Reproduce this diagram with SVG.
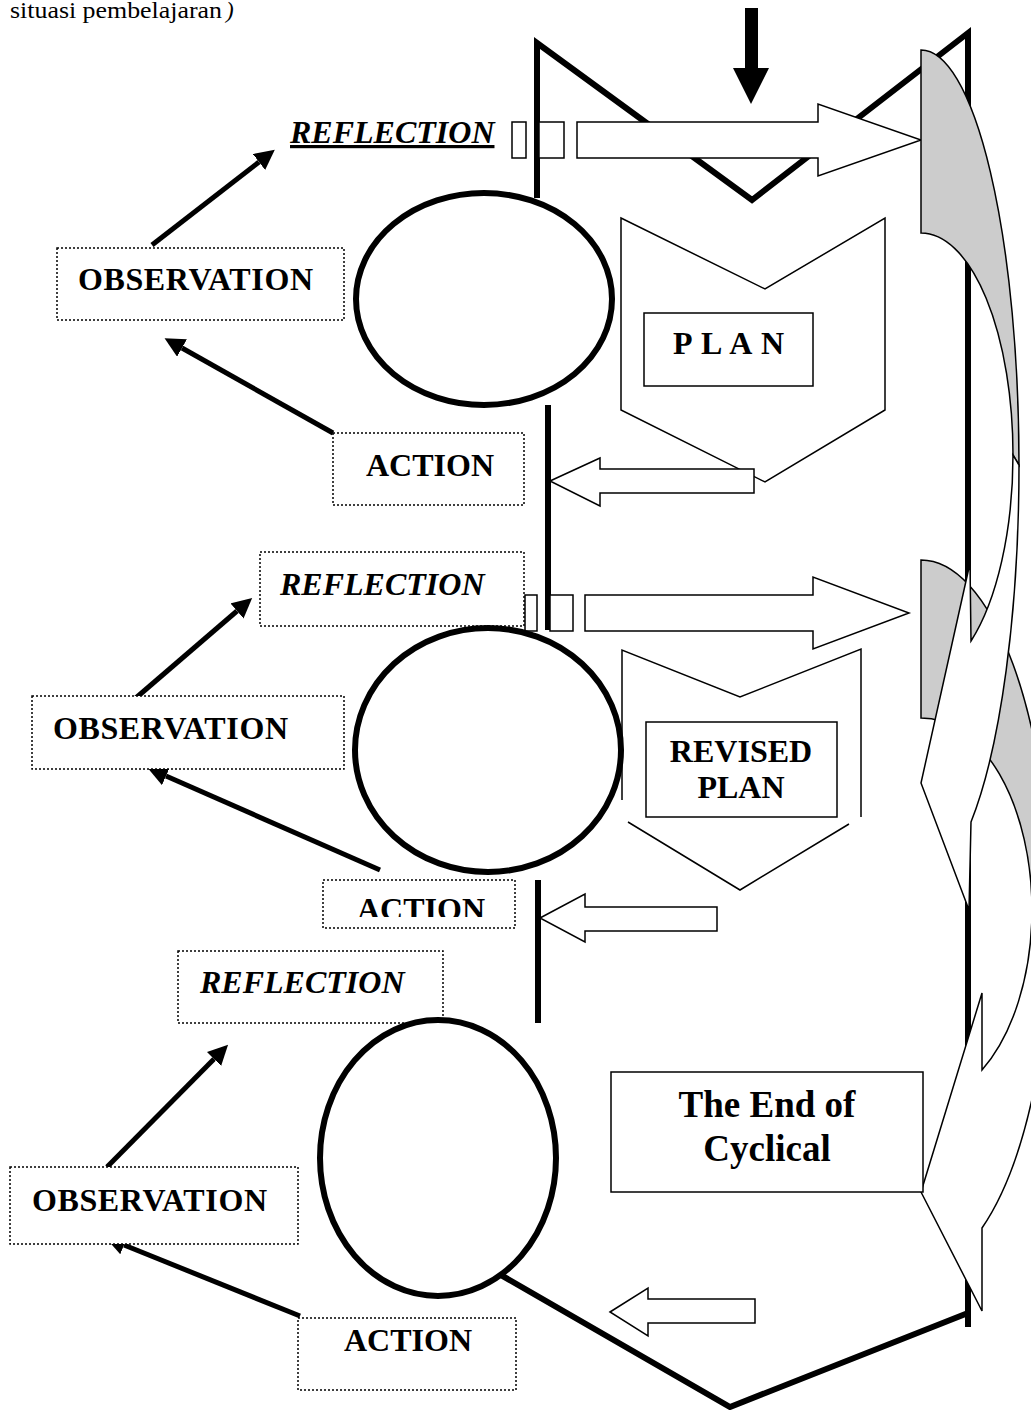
<svg xmlns="http://www.w3.org/2000/svg" width="1031" height="1410" viewBox="0 0 1031 1410">
<defs>
<style>
.thick{fill:none;stroke:#000;stroke-width:6;stroke-linejoin:miter;stroke-miterlimit:10}
.thin{fill:#fff;stroke:#000;stroke-width:1.5}
.line{fill:none;stroke:#000;stroke-width:1.5}
.dot{fill:#fff;stroke:#000;stroke-width:1.5;stroke-dasharray:2 2}
.lbl{font-family:"Liberation Serif","Times New Roman",serif;font-weight:bold;font-size:32px;fill:#000}
.it{font-style:italic}
.big{font-size:37px}
.cap{font-family:"Liberation Serif","Times New Roman",serif;font-size:23px;fill:#000}
.circ{fill:#fff;stroke:#000;stroke-width:6}
.gray{fill:#ccc;stroke:#000;stroke-width:1.5}
.front{fill:#fff;stroke:#000;stroke-width:1.5}
.bl{stroke:#000;stroke-width:5;fill:none}
</style>
<marker id="ah" viewBox="0 0 10 10" refX="0" refY="5" markerWidth="4" markerHeight="4" orient="auto" markerUnits="strokeWidth"><path d="M0,0 L10,5 L0,10 Z" fill="#000"/></marker>
<clipPath id="clipA2"><rect x="0" y="0" width="1031" height="917"/></clipPath>
</defs>
<rect width="1031" height="1410" fill="#fff"/>

<g id="caption">
<text class="cap" x="10" y="18" textLength="212" lengthAdjust="spacingAndGlyphs">situasi pembelajaran</text>
<text class="cap it" x="226" y="18">)</text>
</g>

<g id="frame">
<polyline class="thick" points="537,198 537,43 752,200 968,33 968,1327"/>
<polyline class="thick" points="480,1263 730,1407 968,1313"/>
<line class="thick" x1="548" y1="405" x2="548" y2="630"/>
<line class="thick" x1="538" y1="880" x2="538" y2="1023"/>
<polygon points="745,8 758,8 758,68 769,68 751,104 733,68 745,68" fill="#000"/>
</g>

<g id="chevron-plan">
<polygon class="thin" points="621,218 765,289 885,218 885,410 765,482 621,410"/>
</g>
<g id="chevron-revised">
<path class="line" d="M622,800 L622,650 L740,697 L861,649 L861,817 M849,824 L740,890 L628,822"/>
</g>

<g id="connectors">
<polygon class="thin" points="577,122 818,122 818,104 921,140 818,176 818,158 577,158"/>
<rect class="thin" x="512" y="122" width="14" height="36"/>
<rect class="thin" x="539" y="122" width="25" height="36"/>
<polygon class="thin" points="585,595 813,595 813,577 909,613 813,649 813,631 585,631"/>
<rect class="thin" x="525" y="595" width="12" height="36"/>
<rect class="thin" x="550" y="595" width="23" height="36"/>
<polygon class="thin" points="550,481 600,458 600,469 754,469 754,493 600,493 600,506"/>
<polygon class="thin" points="540,918 585,894 585,907 717,907 717,931 585,931 585,942"/>
<polygon class="thin" points="610,1312 648,1288 648,1299 755,1299 755,1323 648,1323 648,1336"/>
<line class="bl" x1="152" y1="245" x2="259" y2="162" marker-end="url(#ah)"/>
<line class="bl" x1="333" y1="433" x2="182" y2="348" marker-end="url(#ah)"/>
<line class="bl" x1="130" y1="703" x2="237" y2="611" marker-end="url(#ah)"/>
<line class="bl" x1="380" y1="870" x2="166" y2="776" marker-end="url(#ah)"/>
<line class="bl" x1="107" y1="1167" x2="214" y2="1059" marker-end="url(#ah)"/>
<line class="bl" x1="300" y1="1316" x2="124" y2="1245" marker-end="url(#ah)"/>
</g>

<g id="curved-arrow-2">
<path class="gray" d="M921,560 A130,355 0 0 1 1051,915 L1032,910 A111,192 0 0 0 921,718 Z"/>
<path class="front" d="M1051,915 A130,355 0 0 1 982,1228 L982,1311 L921,1192 L982,993 L982,1070 A111,192 0 0 0 1032,910 Z"/>
</g>
<g id="curved-arrow-1">
<path class="gray" d="M921,50 A98,415 0 0 1 1019,465 L1013,455 A92,222 0 0 0 921,233 Z"/>
<path class="front" d="M1019,465 A98,415 0 0 1 971,822 L969,910 L921,783 L970,563 L971,641 A92,222 0 0 0 1013,455 Z"/>
</g>

<g id="reflection-1">
<text class="lbl it" x="290" y="143" text-decoration="underline">REFLECTION</text>
</g>
<g id="observation-1">
<rect class="dot" x="57" y="248" width="287" height="72"/>
<text class="lbl" x="78" y="290" textLength="235">OBSERVATION</text>
</g>
<g id="cycle-1"><ellipse class="circ" cx="484" cy="299" rx="128" ry="106"/></g>
<g id="plan">
<rect class="thin" x="644" y="313" width="169" height="73"/>
<text class="lbl" x="673" y="354" textLength="111">P L A N</text>
</g>
<g id="action-1">
<rect class="dot" x="333" y="433" width="191" height="72"/>
<text class="lbl" x="366" y="476">ACTION</text>
</g>

<g id="reflection-2">
<rect class="dot" x="260" y="552" width="264" height="74"/>
<text class="lbl it" x="280" y="595">REFLECTION</text>
</g>
<g id="observation-2">
<rect class="dot" x="32" y="696" width="312" height="73"/>
<text class="lbl" x="53" y="739" textLength="235">OBSERVATION</text>
</g>
<g id="cycle-2"><ellipse class="circ" cx="488" cy="750" rx="133" ry="122"/></g>
<g id="revised-plan">
<rect class="thin" x="646" y="722" width="191" height="95"/>
<text class="lbl" x="741" y="762" text-anchor="middle">REVISED</text>
<text class="lbl" x="741" y="798" text-anchor="middle">PLAN</text>
</g>
<g id="action-2">
<rect class="dot" x="323" y="880" width="192" height="48"/>
<text class="lbl" x="357" y="920" clip-path="url(#clipA2)">ACTION</text>
</g>

<g id="reflection-3">
<rect class="dot" x="178" y="951" width="265" height="72"/>
<text class="lbl it" x="200" y="993">REFLECTION</text>
</g>
<g id="cycle-3"><ellipse class="circ" cx="438" cy="1158" rx="118" ry="138"/></g>
<g id="observation-3">
<rect class="dot" x="10" y="1167" width="288" height="77"/>
<text class="lbl" x="32" y="1211" textLength="235">OBSERVATION</text>
</g>
<g id="end">
<rect class="thin" x="611" y="1072" width="312" height="120"/>
<text class="lbl big" x="767" y="1117" text-anchor="middle">The End of</text>
<text class="lbl big" x="767" y="1161" text-anchor="middle">Cyclical</text>
</g>
<g id="action-3">
<rect class="dot" x="298" y="1318" width="218" height="72"/>
<text class="lbl" x="344" y="1351">ACTION</text>
</g>
</svg>
